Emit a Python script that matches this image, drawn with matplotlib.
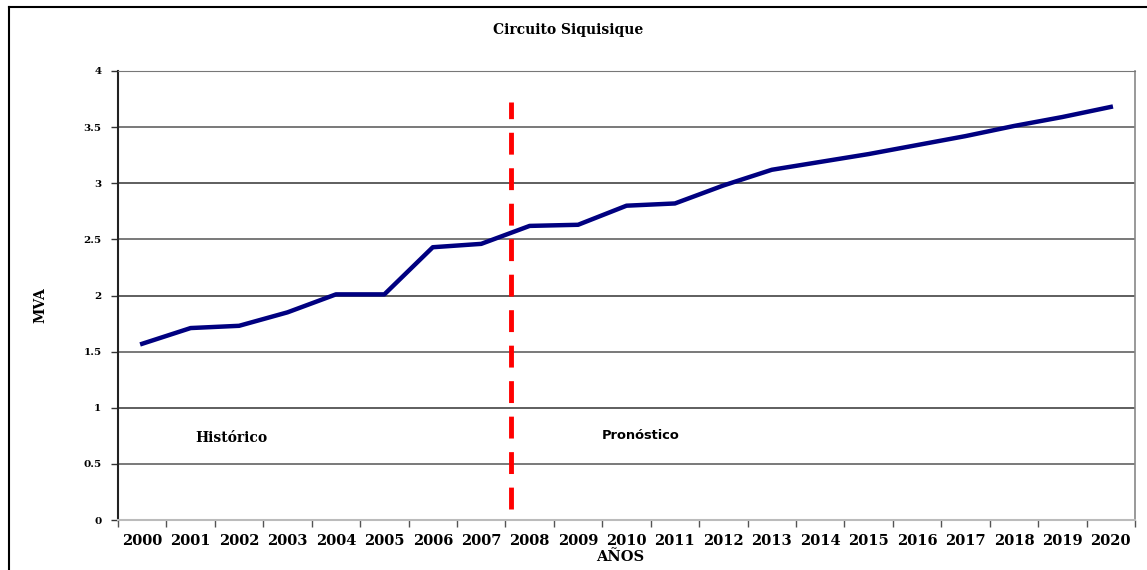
import matplotlib
matplotlib.use("Agg")
import matplotlib.pyplot as plt
from matplotlib.lines import Line2D

years = [str(y) for y in range(2000, 2021)]
mva = [1.57, 1.71, 1.73, 1.85, 2.01, 2.01, 2.43, 2.46, 2.62, 2.63, 2.80,
       2.82, 2.98, 3.12, 3.19, 3.26, 3.34, 3.42, 3.51, 3.59, 3.68]
yticks = [0, 0.5, 1, 1.5, 2, 2.5, 3, 3.5, 4]
ytick_labels = ["0", "0.5", "1", "1.5", "2", "2.5", "3", "3.5", "4"]
split_pos = 7.62
split_range = (0.1, 3.72)

serif = "DejaVu Serif"
sans = "DejaVu Sans"

fig = plt.figure(figsize=(11.47, 5.70), dpi=100)
ax = fig.add_axes([118/1147, 1-520/570, (1135-118)/1147, (520-71)/570])

x = list(range(len(years)))
ax.plot(x, mva, color="#000080", lw=3.2, solid_joinstyle="round", zorder=3)
ax.plot([split_pos, split_pos], split_range, color="#ff0000", lw=3.5,
        dashes=(4.5, 2.8), zorder=4)

ax.set_xlim(-0.5, len(years) - 0.5)
ax.set_ylim(0, 4)
ax.set_yticks(yticks)
ax.set_yticklabels(ytick_labels, fontfamily=serif, fontweight="bold", fontsize=7.5)
ax.set_xticks(x)
ax.set_xticklabels(years, fontfamily=serif, fontweight="bold", fontsize=10.5)
ax.tick_params(axis="x", which="major", length=0, pad=10)
ax.set_xticks([i - 0.5 for i in range(len(years) + 1)], minor=True)
ax.tick_params(axis="x", which="minor", length=5, width=1, color="#555555", direction="out")
ax.tick_params(axis="y", length=5, width=1, color="#333333", pad=7)

for v in yticks[1:]:
    ax.axhline(v, color="#333333" if v % 1 == 0 else "#555555", lw=1.1, zorder=1)

ax.spines["left"].set_color("#222222")
ax.spines["left"].set_linewidth(1.5)
ax.spines["right"].set_color("#888888")
ax.spines["right"].set_linewidth(1.2)
ax.spines["top"].set_color("#777777")
ax.spines["bottom"].set_color("#bbbbbb")
ax.spines["bottom"].set_linewidth(1.5)

ax.text(1.85, 0.73, "Histórico", fontfamily=serif, fontweight="bold", fontsize=10,
        ha="center", va="center")
ax.text(10.3, 0.75, "Pronóstico", fontfamily=sans, fontweight="bold", fontsize=9.4,
        ha="center", va="center")

fig.text(568/1147, 1-30/570, "Circuito Siquisique", fontfamily=serif, fontweight="bold",
         fontsize=10, ha="center", va="center")
fig.text(40/1147, 1-305/570, "MVA", fontfamily=serif, fontweight="bold", fontsize=10,
         rotation=90, ha="center", va="center")
fig.text(620/1147, 1-557/570, "AÑOS", fontfamily=serif, fontweight="bold", fontsize=10.5,
         ha="center", va="center")

# outer chart frame (left and top edges visible)
fig.add_artist(Line2D([9/1147, 9/1147], [1-7/570, 0], color="black", lw=1.5,
                      transform=fig.transFigure))
fig.add_artist(Line2D([9/1147, 1], [1-7/570, 1-7/570], color="black", lw=1.5,
                      transform=fig.transFigure))

fig.savefig("out.png", dpi=100)
